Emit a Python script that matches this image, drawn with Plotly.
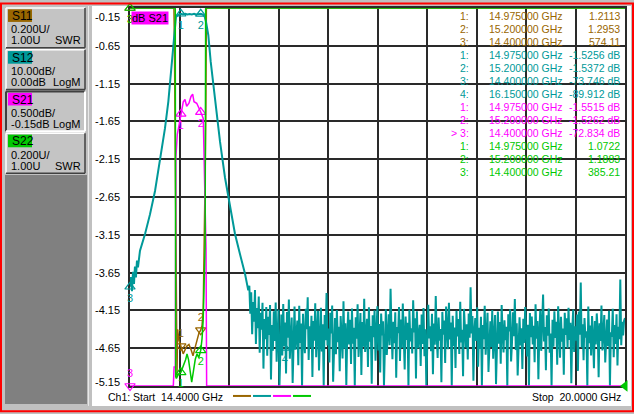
import numpy as np
import plotly.graph_objects as go

# sweep and channel setup, as shown on the analyzer screen
start_ghz = 14.4
stop_ghz = 20.0
n_div = 10

channels = ['S11', 'S12', 'S21', 'S22']
colors = ['#996600', '#009999', '#ff00ff', '#00c800']
scale_per_div = [0.2, 10.0, 0.5, 0.2]
ref_value = [1.0, 0.0, -0.15, 1.0]
ref_div = [0, 10, 10, 0]          # reference line, divisions from bottom
scale_text = ['0.200U/', '10.00dB/', '0.500dB/', '0.200U/']
ref_text = ['1.00U', '0.00dB', '-0.15dB', '1.00U']
fmt_text = ['SWR', 'LogM', 'LogM', 'SWR']
active = 2          # S21 selected
active_marker = 2   # marker 3 on S21

# S11 (SWR)
s11_freq = [14.400, 14.897, 14.903, 14.916, 14.925, 14.932, 14.938, 14.955, 14.975,
            15.002, 15.041, 15.067, 15.092, 15.113, 15.140, 15.158, 15.180, 15.200,
            15.215, 15.228, 15.236, 15.250, 15.258, 15.264, 20.000]
s11_swr = [574.11, 9.0, 2.80, 1.90, 1.08, 1.05, 1.30, 1.24, 1.2113,
           1.17, 1.21, 1.22, 1.19, 1.16, 1.21, 1.25, 1.28, 1.2953,
           1.32, 1.40, 1.60, 2.10, 2.45, 6.0, 480.0]

# S12 (dB) - filter skirts and passband
s12_freq = [14.400, 14.411, 14.422, 14.434, 14.445, 14.456, 14.467, 14.479, 14.490,
            14.513, 14.570, 14.626, 14.683, 14.739, 14.796, 14.834, 14.861, 14.883,
            14.901, 14.920, 14.946, 14.975, 15.000, 15.025, 15.050, 15.075, 15.100,
            15.125, 15.150, 15.175, 15.200, 15.225, 15.245, 15.260, 15.286, 15.313,
            15.362, 15.418, 15.475, 15.531, 15.588, 15.644, 15.701, 15.738]
s12_db = [-73.746, -71.2, -74.9, -69.8, -73.0, -68.4, -71.3, -66.8, -68.6,
          -64.2, -59.8, -54.6, -48.4, -40.5, -31.8, -24.7, -17.7, -11.6,
          -5.4, -2.4, -1.8, -1.5256, -1.68, -1.55, -1.72, -1.58, -1.70,
          -1.56, -1.69, -1.60, -1.5372, -1.75, -2.3, -3.7, -7.2, -14.2,
          -24.7, -35.3, -44.9, -51.9, -59.8, -65.1, -70.3, -74.7]
# S12 noise floor, 15.75 .. 20 GHz
s12_floor_start = 15.75
s12_floor_db = [
    -73.5, -80.9, -75.2, -86.3, -77.8, -83.0, -74.6, -88.9, -79.4, -84.7,
    -76.3, -91.2, -80.6, -85.1, -78.0, -95.4, -82.3, -87.6, -79.1, -92.0,
    -81.7, -86.5, -78.6, -98.3, -83.9, -90.7, -80.2, -88.1, -77.9, -93.6,
    -84.5, -79.8, -100.0, -86.8, -81.1, -91.9, -78.3, -89.5, -83.2, -96.7,
    -80.4, -87.2, -77.1, -92.8, -85.6, -81.9, -99.2, -84.0, -79.0, -90.4,
    -86.9, -82.7, -94.5, -78.8, -88.6, -83.5, -100.0, -80.9, -87.4, -91.3,
    -79.6, -85.0, -76.5, -93.1, -84.2, -89.8, -81.4, -97.6, -82.8, -88.0,
    -78.1, -92.4, -85.3, -80.1, -95.9, -86.4, -79.3, -90.9, -83.7, -100.0,
    -81.2, -87.9, -75.4, -89.3, -84.8, -93.8, -80.6, -86.1, -78.7, -98.9,
    -85.7, -82.0, -91.6, -79.9, -88.4, -84.3, -96.1, -81.5, -87.0, -92.7,
    -77.6, -90.1, -83.4, -99.7, -86.2, -80.3, -89.0, -82.5, -94.2, -79.5,
    -88.8, -84.6, -100.0, -81.8, -87.5, -78.4, -92.3, -85.9, -80.7, -97.1,
    -83.1, -89.6, -76.9, -91.0, -86.7, -82.2, -95.0, -79.2, -88.3, -84.1,
    -99.4, -81.3, -87.1, -80.0, -93.3, -85.4, -78.9, -90.6, -83.6, -96.4,
    -80.8, -86.6, -82.9, -100.0, -84.9, -79.7, -91.8, -87.3, -81.0, -89.2,
    -74.3, -85.2, -92.9, -83.0, -88.7, -80.5, -97.8, -84.4, -86.0, -79.1,
    -93.4, -82.4, -89.9, -78.2, -86.3, -95.6, -81.6, -87.8, -83.3, -100.0,
    -79.8, -88.2, -84.7, -91.4, -77.3, -85.8, -82.1, -98.0, -80.2, -90.0,
    -86.5, -83.8, -94.7, -81.1, -88.9, -79.4, -92.1, -85.0, -100.0, -82.6,
    -78.5, -87.4, -84.2, -90.8, -80.9, -96.9, -83.5, -89.1, -76.2, -86.8,
    -92.6, -81.9, -88.0, -84.9, -99.0, -80.4, -86.4, -82.7, -93.9, -79.0,
    -85.5, -90.3, -78.0, -87.7, -83.2, -100.0, -81.4, -89.4, -84.5, -95.2,
    -80.1, -86.9, -82.3, -91.5, -77.7, -88.5, -85.1, -97.4, -79.6, -84.0,
    -89.8, -83.7, -93.0, -80.8, -87.2, -73.9, -86.1, -81.5, -98.6, -85.3,
    -82.0, -88.1, -79.2, -94.9, -84.6, -90.2, -81.7, -100.0, -83.9, -87.6,
    -78.8, -91.7, -85.7, -80.6, -96.3, -86.6, -82.9, -89.7, -79.9, -92.8,
    -84.8, -81.2, -99.5, -87.0, -80.3, -88.8, -83.1, -94.1, -78.6, -86.2,
    -91.1, -82.6, -87.9, -84.3, -100.0, -81.0, -85.6, -79.7, -93.5, -88.4,
    -80.5, -86.8, -77.0, -90.5, -83.4, -97.2, -85.2, -81.8, -89.3, -84.7,
    -95.5, -82.2, -88.6, -79.1, -86.0, -92.2, -83.8, -100.0, -80.7, -87.1,
    -81.6, -89.0, -84.1, -93.7, -78.4, -87.5, -82.8, -98.2, -85.9, -80.0,
    -90.7, -83.6, -75.8, -88.2, -84.4, -95.8, -81.3, -86.7, -79.5, -91.2,
    -86.1, -100.0, -82.5, -89.6, -80.2, -87.3, -83.0, -94.4, -78.9, -85.4,
    -92.5, -81.7, -88.3, -84.8, -97.0, -80.6, -86.5, -82.1, -90.1, -79.3,
    -87.8, -83.3, -99.3, -85.0, -79.8, -91.0, -84.2, -88.0, -81.1, -96.0,
    -80.3, -86.4, -72.6, -89.8, -83.7, -93.2, -82.0, -87.2, -85.5, -100.0,
    -79.0, -88.7, -84.0, -91.9, -81.5, -86.9, -95.3, -82.8, -89.0, -80.8,
    -85.1, -97.7, -83.4, -88.1, -78.7, -90.6, -84.6, -81.2, -93.8, -86.3,
    -82.4, -89.5, -80.1, -100.0, -85.8, -87.0, -79.6, -92.4, -83.9, -88.9,
    -81.0, -94.6, -84.3, -87.6, -71.8, -89.2, -83.0, -86.6, -82.7, -82.0,
]

# S21 (dB)
s21_freq = [14.400, 14.890, 14.899, 14.913, 14.919, 14.935, 14.955, 14.975, 15.003,
            15.022, 15.041, 15.067, 15.090, 15.109, 15.124, 15.155, 15.184, 15.200,
            15.229, 15.237, 15.241, 15.260, 15.267, 20.000]
s21_db = [-72.834, -45.0, -4.90, -4.90, -2.13, -1.82, -1.70, -1.5515, -1.39,
          -1.36, -1.45, -1.41, -1.32, -1.29, -1.39, -1.41, -1.50, -1.5262,
          -1.61, -2.00, -2.44, -3.33, -42.0, -68.0]

# S22 (SWR)
s22_freq = [14.400, 14.912, 14.917, 14.925, 14.945, 14.960, 14.975, 14.990, 15.010,
            15.030, 15.045, 15.062, 15.080, 15.098, 15.118, 15.138, 15.158, 15.178,
            15.200, 15.215, 15.228, 15.238, 15.250, 15.256, 20.000]
s22_swr = [385.21, 30.0, 1.05, 1.04, 1.06, 1.07, 1.0722, 1.09, 1.11,
           1.14, 1.17, 1.14, 1.08, 1.02, 1.08, 1.14, 1.17, 1.15,
           1.1883, 1.25, 1.35, 1.50, 1.75, 6.0, 310.0]

# markers
mk_freq = [[14.975, 15.2, 14.4],
           [14.975, 15.2, 14.4, 16.15],
           [14.975, 15.2, 14.4],
           [14.975, 15.2, 14.4]]
mk_val = [[1.2113, 1.2953, 574.11],
          [-1.5256, -1.5372, -73.746, -89.912],
          [-1.5515, -1.5262, -72.834],
          [1.0722, 1.1883, 385.21]]

# ---------------------------------------------------------------------------
W, H = 634, 414
L, R, T, B = 130, 625, 6, 386
FONT = 'Liberation Sans, Arial, sans-serif'


def px(x):
    return (x - L) / (R - L)


def py(y):
    return (B - y) / (B - T)


shapes = []
notes = []


def rect(x0, y0, x1, y1, fill='rgba(0,0,0,0)', line='rgba(0,0,0,0)', width=0, layer='above'):
    shapes.append(dict(type='rect', xref='paper', yref='paper', x0=px(x0), x1=px(x1),
                       y0=py(y0), y1=py(y1), fillcolor=fill,
                       line=dict(color=line, width=width), layer=layer))


def seg(x0, y0, x1, y1, color, width=1, layer='above'):
    shapes.append(dict(type='line', xref='paper', yref='paper', x0=px(x0), x1=px(x1),
                       y0=py(y0), y1=py(y1), line=dict(color=color, width=width), layer=layer))


def note(text, x, y, anchor='left', size=11, color='black', **kw):
    notes.append(dict(text=text, x=px(x), y=py(y), xref='paper', yref='paper',
                      xanchor=anchor, yanchor='middle', showarrow=False,
                      font=dict(family=FONT, size=size, color=color), **kw))


axis_ids = ['y', 'y2', 'y3', 'y4']
traces = [
    (s11_freq, s11_swr),
    (s12_freq + list(np.linspace(s12_floor_start, stop_ghz, len(s12_floor_db))),
     s12_db + s12_floor_db),
    (s21_freq, s21_db),
    (s22_freq, s22_swr),
]
label_up = [False, True, True, True]
line_w = [1.5, 2.0, 1.5, 1.5]

fig = go.Figure()
ranges = []
for i in range(4):
    lo = ref_value[i] - scale_per_div[i] * ref_div[i]
    hi = lo + scale_per_div[i] * n_div
    ranges.append([lo, hi])
    f, v = traces[i]
    fig.add_trace(go.Scatter(x=f, y=np.clip(v, lo, hi), yaxis=axis_ids[i], mode='lines',
                             line=dict(color=colors[i], width=line_w[i]), hoverinfo='skip'))

    syms, pos = [], []
    for val in mk_val[i]:
        if val >= hi or (lo < val < hi and label_up[i]):
            syms.append('triangle-up-open')
            pos.append('bottom center')
        else:
            syms.append('triangle-down-open')
            pos.append('top center')
    fig.add_trace(go.Scatter(
        x=mk_freq[i], y=np.clip(mk_val[i], lo, hi), yaxis=axis_ids[i],
        mode='markers+text', text=[str(k + 1) for k in range(len(mk_val[i]))],
        textposition=pos, cliponaxis=False, hoverinfo='skip',
        textfont=dict(family=FONT, size=11, color=colors[i]),
        marker=dict(symbol=syms, size=9, color=colors[i], line=dict(width=1.2, color=colors[i]))))

# reference level pointers
fig.add_trace(go.Scatter(x=[start_ghz, stop_ghz], y=[ref_value[2]] * 2, yaxis='y3', mode='markers',
                         cliponaxis=False, hoverinfo='skip',
                         marker=dict(symbol=['triangle-right', 'triangle-left'], size=9, color=colors[2])))
fig.add_trace(go.Scatter(x=[stop_ghz], y=[ref_value[3]], yaxis='y4', mode='markers',
                         cliponaxis=False, hoverinfo='skip',
                         marker=dict(symbol='triangle-left', size=10, color=colors[3])))

# window furniture
rect(92, 4, 631, 406, fill='white', layer='below')
rect(5, 174, 87, 404, fill='#808080', layer='below')
seg(88.5, 4, 88.5, 406, '#e8e8e8', 1)
rect(1, 1.5, 633, 411.5, line='#ff0000', width=2)

# channel boxes on the left
for i in range(4):
    y0 = 6 + 42 * i
    y1 = y0 + 40
    x0, x1 = 6, 85
    rect(x0, y0, x1, y1, fill='#c4c4c4', layer='below')
    light, dark = ('#404040', '#ffffff') if i == active else ('#ffffff', '#404040')
    w = 2 if i == active else 1.5
    seg(x0, y0, x1, y0, light, w)
    seg(x0, y0, x0, y1, light, w)
    seg(x0, y1, x1, y1, dark, w)
    seg(x1, y0, x1, y1, dark, w)
    rect(8, y0 + 1.3, 32, y0 + 14, fill=colors[i])
    note(channels[i], 9.5, y0 + 8, size=12)
    note(scale_text[i], 8.5, y0 + 21.5)
    note(ref_text[i], 8.5, y0 + 32.5)
    note(fmt_text[i], 82.5, y0 + 32.5, anchor='right')

# y labels (S21 scale)
for k in range(n_div + 1):
    val = ref_value[2] - scale_per_div[2] * k
    shift = -9 if k == 0 else (4.5 if k == n_div else 0)
    notes.append(dict(text=f'{val:.2f}', x=px(92.5), y=val, xref='paper', yref='y3',
                      xanchor='left', yanchor='middle', yshift=shift, showarrow=False,
                      font=dict(family=FONT, size=11, color='black')))

note('dB S21', 131, 16, bgcolor=colors[2], borderpad=0)

# marker readout table
row = 0
for i in range(4):
    for k, (f, v) in enumerate(zip(mk_freq[i], mk_val[i])):
        y = 14 + 13.1 * row
        num = ('> ' if (i == active and k == active_marker) else '') + f'{k + 1}:'
        unit = ' dB' if fmt_text[i] == 'LogM' else ''
        note(num, 471, y, anchor='right', size=10.5, color=colors[i])
        note(f'{f:.6f} GHz', 487, y, size=10.5, color=colors[i])
        note(f'{v:.5g}{unit}', 622, y, anchor='right', size=10.5, color=colors[i])
        row += 1

# footer
note(f'Ch1: Start  {start_ghz:.4f} GHz', 106, 397.5, size=10.5)
note(f'Stop  {stop_ghz:.4f} GHz', 623, 397.5, anchor='right', size=10.5)
for i in range(4):
    seg(233 + 20 * i, 396, 251 + 20 * i, 396, colors[i], 2)

grid = dict(showgrid=True, gridcolor='#2a2a2a', gridwidth=2, showticklabels=False, ticks='',
            zeroline=False, showline=True, mirror=True, linecolor='#2a2a2a', linewidth=2,
            layer='below traces', fixedrange=True)

fig.update_layout(
    width=W, height=H,
    margin=dict(l=L, r=W - R, t=T, b=H - B),
    paper_bgcolor='#c0c0c0', plot_bgcolor='white',
    showlegend=False,
    xaxis=dict(range=[start_ghz, stop_ghz], tick0=start_ghz,
               dtick=(stop_ghz - start_ghz) / n_div, **grid),
    yaxis=dict(range=ranges[0], tick0=ranges[0][0], dtick=scale_per_div[0], **grid),
    yaxis2=dict(range=ranges[1], overlaying='y', visible=False, fixedrange=True),
    yaxis3=dict(range=ranges[2], overlaying='y', visible=False, fixedrange=True),
    yaxis4=dict(range=ranges[3], overlaying='y', visible=False, fixedrange=True),
    shapes=shapes,
    annotations=notes,
)

# page body has a default 8px margin; drop it so the figure fills the window
fig.write_html('out.html', config={'displayModeBar': False},
               post_script="document.body.style.margin='0px';document.body.style.overflow='hidden';")
